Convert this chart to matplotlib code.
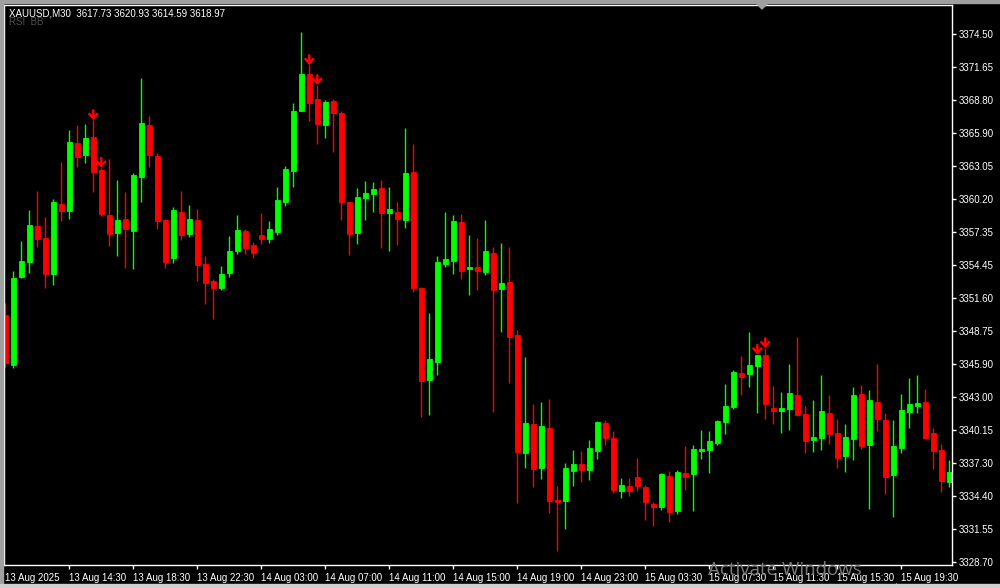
import matplotlib
matplotlib.use("Agg")
import matplotlib.pyplot as plt
from matplotlib.patches import Rectangle, Polygon

# XAUUSD M30 candles
opens = [
    3350.12, 3345.79, 3353.45, 3354.75, 3357.84, 3356.80, 3353.71, 3359.75, 3359.17, 3365.04,
    3364.03, 3365.56, 3362.70, 3358.80, 3357.26, 3358.45, 3357.44, 3362.12, 3366.61, 3363.92,
    3358.36, 3355.09, 3359.06, 3357.18, 3358.36, 3354.55, 3353.07, 3352.49, 3353.79, 3355.70,
    3357.41, 3356.20, 3357.06, 3356.74, 3357.35, 3359.95, 3362.64, 3367.85, 3371.03, 3368.86,
    3366.61, 3368.69, 3367.65, 3359.93, 3357.26, 3360.30, 3360.65, 3361.14, 3359.00, 3359.06,
    3358.39, 3362.53, 3352.47, 3344.51, 3346.07, 3354.57, 3354.83, 3358.19, 3354.14, 3354.29,
    3353.88, 3355.50, 3352.40, 3352.99, 3348.39, 3338.18, 3340.67, 3336.88, 3340.32, 3334.10,
    3334.01, 3336.62, 3337.20, 3336.70, 3338.35, 3340.75, 3339.45, 3334.88, 3335.29, 3336.07,
    3335.20, 3333.73, 3333.49, 3336.16, 3333.15, 3336.42, 3336.36, 3338.35, 3338.44, 3339.02,
    3340.87, 3342.17, 3345.09, 3345.03, 3345.73, 3346.65, 3342.06, 3341.82, 3342.00, 3343.18,
    3341.53, 3339.31, 3339.48, 3341.62, 3339.89, 3337.92, 3339.39, 3343.27, 3338.87, 3342.58,
    3341.01, 3336.27, 3338.61, 3341.73, 3342.25, 3342.58, 3339.89, 3338.41, 3335.66]
highs = [
    3351.16, 3353.94, 3356.54, 3359.23, 3360.88, 3358.62, 3360.19, 3363.40, 3366.17, 3366.61,
    3366.69, 3367.04, 3362.90, 3363.66, 3361.83, 3360.79, 3362.44, 3370.68, 3367.39, 3364.18,
    3358.45, 3359.49, 3360.88, 3359.67, 3359.32, 3355.24, 3353.27, 3354.37, 3356.98, 3358.80,
    3357.58, 3356.46, 3358.97, 3358.28, 3361.23, 3363.05, 3368.51, 3374.67, 3371.81, 3370.08,
    3368.77, 3368.86, 3367.82, 3359.95, 3361.14, 3361.75, 3361.66, 3361.83, 3361.23, 3359.93,
    3366.35, 3364.96, 3352.55, 3350.30, 3355.24, 3359.06, 3358.80, 3358.88, 3357.06, 3356.80,
    3358.36, 3356.02, 3356.37, 3356.02, 3348.82, 3346.48, 3342.40, 3342.58, 3342.84, 3335.32,
    3337.28, 3338.41, 3338.33, 3339.28, 3340.93, 3341.01, 3340.06, 3335.98, 3335.98, 3337.74,
    3335.38, 3333.93, 3336.42, 3336.59, 3336.68, 3338.76, 3338.85, 3340.15, 3340.06, 3341.01,
    3344.14, 3345.35, 3346.57, 3348.65, 3346.70, 3347.26, 3343.96, 3343.44, 3345.87, 3348.21,
    3342.23, 3342.75, 3344.92, 3343.18, 3341.10, 3340.67, 3343.88, 3344.05, 3343.62, 3345.87,
    3341.62, 3341.01, 3343.27, 3344.66, 3344.92, 3343.70, 3340.32, 3338.93, 3337.54]
lows = [
    3345.61, 3345.50, 3353.33, 3353.77, 3356.05, 3352.49, 3352.75, 3358.30, 3358.48, 3362.99,
    3363.34, 3360.82, 3358.74, 3356.14, 3355.27, 3354.23, 3354.14, 3359.95, 3362.99, 3357.61,
    3354.17, 3354.66, 3356.66, 3356.92, 3353.10, 3351.10, 3349.75, 3352.32, 3353.45, 3355.44,
    3355.44, 3355.09, 3356.31, 3356.40, 3357.09, 3359.60, 3361.25, 3367.80, 3366.98, 3364.98,
    3365.48, 3364.26, 3358.36, 3355.33, 3356.28, 3358.36, 3359.06, 3355.96, 3355.68, 3356.20,
    3357.70, 3352.14, 3341.30, 3341.47, 3344.92, 3354.31, 3353.71, 3353.27, 3351.88, 3352.32,
    3353.62, 3341.73, 3348.67, 3344.25, 3333.84, 3336.88, 3335.23, 3335.92, 3332.97, 3329.68,
    3331.58, 3335.32, 3335.66, 3335.84, 3337.66, 3338.87, 3334.71, 3334.27, 3334.45, 3334.88,
    3332.37, 3331.85, 3333.23, 3332.19, 3332.89, 3334.97, 3333.15, 3337.66, 3336.44, 3338.87,
    3339.83, 3342.00, 3343.21, 3343.90, 3341.65, 3341.13, 3340.69, 3339.91, 3340.17, 3341.39,
    3338.18, 3338.26, 3338.44, 3338.96, 3336.88, 3336.53, 3337.57, 3338.52, 3333.32, 3340.09,
    3334.62, 3332.63, 3338.18, 3340.35, 3341.65, 3339.45, 3336.79, 3334.79, 3335.23]
closes = [
    3345.96, 3353.33, 3354.81, 3357.93, 3356.74, 3353.71, 3359.93, 3359.17, 3365.13, 3363.86,
    3365.48, 3362.55, 3358.91, 3357.18, 3358.36, 3357.61, 3362.27, 3366.78, 3364.03, 3358.30,
    3354.75, 3359.23, 3357.09, 3358.45, 3354.49, 3352.93, 3352.49, 3353.68, 3355.68, 3357.50,
    3355.96, 3355.53, 3356.74, 3357.58, 3360.10, 3362.79, 3367.82, 3371.03, 3368.54, 3366.72,
    3368.60, 3367.65, 3359.95, 3357.18, 3360.36, 3360.71, 3361.05, 3359.00, 3359.32, 3358.48,
    3362.44, 3352.49, 3344.42, 3346.31, 3354.72, 3354.98, 3358.28, 3353.97, 3354.31, 3353.97,
    3355.68, 3352.32, 3352.90, 3348.24, 3338.26, 3340.75, 3336.79, 3340.49, 3334.01, 3333.93,
    3336.85, 3337.20, 3336.70, 3338.59, 3340.84, 3339.48, 3334.97, 3335.38, 3334.88, 3335.32,
    3333.93, 3333.49, 3336.33, 3333.06, 3336.50, 3336.10, 3338.50, 3338.50, 3339.19, 3340.93,
    3342.23, 3345.18, 3344.77, 3345.79, 3346.65, 3342.43, 3341.82, 3342.06, 3343.36, 3341.47,
    3339.22, 3339.54, 3341.80, 3339.83, 3337.74, 3339.54, 3343.18, 3338.79, 3342.75, 3341.13,
    3336.10, 3338.76, 3341.88, 3342.40, 3342.49, 3339.48, 3338.35, 3335.75, 3336.50]

# bars with a sell arrow drawn above them
arrow_bars = [11, 12, 38, 39, 94, 95]

price_ticks = [3374.50, 3371.65, 3368.80, 3365.90, 3363.05, 3360.20, 3357.35, 3354.45,
               3351.60, 3348.75, 3345.90, 3343.00, 3340.15, 3337.30, 3334.40, 3331.55, 3328.70]
time_tick_bars = [0, 8, 16, 24, 32, 40, 48, 56, 64, 72, 80, 88, 96, 104, 112]
time_labels = ["13 Aug 2025", "13 Aug 14:30", "13 Aug 18:30", "13 Aug 22:30", "14 Aug 03:00",
               "14 Aug 07:00", "14 Aug 11:00", "14 Aug 15:00", "14 Aug 19:00", "14 Aug 23:00",
               "15 Aug 03:30", "15 Aug 07:30", "15 Aug 11:30", "15 Aug 15:30", "15 Aug 19:30"]

plt.rcParams['font.family'] = ['Liberation Sans', 'DejaVu Sans']

fig = plt.figure(figsize=(10, 5.88), dpi=100, facecolor='black')
ax = fig.add_axes([4 / 1000, 23 / 588, 948 / 1000, 560 / 588])
ax.set_facecolor('black')

x = list(range(len(opens)))
cols = ['#00ff00' if c >= o else '#ff0000' for o, c in zip(opens, closes)]
ax.vlines(x, lows, highs, colors=cols, linewidth=1.0)
bottoms = [min(o, c) for o, c in zip(opens, closes)]
heights = [abs(c - o) for o, c in zip(opens, closes)]
ax.bar(x, heights, bottom=bottoms, width=0.56, color=cols, edgecolor=cols, linewidth=0.6)

# thick red down arrows sitting on the bar highs
for i in arrow_bars:
    ax.annotate('', xy=(i, highs[i]), xycoords='data',
                xytext=(0, 7), textcoords='offset points',
                arrowprops=dict(arrowstyle='->,head_width=0.28,head_length=0.3',
                                color='#ff0000', lw=1.8, shrinkA=0, shrinkB=0))

ax.set_xlim(-0.16, 118.34)
ax.set_ylim(3328.44, 3377.02)

for s in ax.spines.values():
    s.set_color('white')
    s.set_linewidth(1)

ax.yaxis.tick_right()
ax.set_yticks(price_ticks)
ax.set_yticklabels(['%.2f' % p for p in price_ticks])
ax.tick_params(axis='y', direction='out', length=3, width=1, color='white',
               labelcolor='white', labelsize=7, pad=2)

ax.set_xticks(time_tick_bars)
ax.set_xticklabels(time_labels, ha='left')
ax.tick_params(axis='x', direction='out', length=3, width=1, color='white',
               labelcolor='white', labelsize=7, pad=3)
ax.get_xticklines()[0].set_visible(False)
ax.get_xticklines()[1].set_visible(False)

fig.text(9 / 1000, 1 - 13 / 588, 'XAUUSD,M30  3617.73 3620.93 3614.59 3618.97',
         color='white', fontsize=7, va='center', ha='left')
fig.text(9 / 1000, 1 - 22 / 588, 'RSI  BB', color='#505050', fontsize=7,
         va='center', ha='left')

# window frame and chart-shift marker
gray = '#a0a0a0'
fig.patches.append(Rectangle((0, 0), 3 / 1000, 1, transform=fig.transFigure, color=gray))
fig.patches.append(Rectangle((0, 1 - 3 / 588), 1, 3 / 588, transform=fig.transFigure, color=gray))
fig.patches.append(Rectangle((0, 0), 1, 4 / 588, transform=fig.transFigure, color='#d0d0d0'))
fig.patches.append(Polygon([(756 / 1000, 1 - 3 / 588), (768 / 1000, 1 - 3 / 588),
                            (762 / 1000, 1 - 9 / 588)], closed=True,
                           transform=fig.transFigure, color=gray))

# watermark
fig.text(708 / 1000, 1 - 575 / 588, 'Activate Windows', color='#7c7c7c',
         fontsize=13.5, family='Open Sans', va='baseline', ha='left', zorder=0)
fig.text(708 / 1000, 1 - 583 / 588, 'Go to Settings to activate Windows', color='#7c7c7c',
         fontsize=9.5, family='Open Sans', va='top', ha='left', zorder=0)

fig.savefig('out.png', dpi=100, facecolor='black')
